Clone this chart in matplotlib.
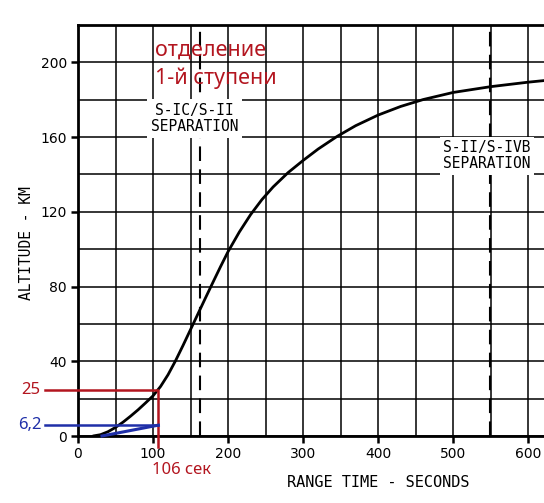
import numpy as np
import matplotlib.pyplot as plt
from matplotlib.ticker import MultipleLocator

# trajectory
time_s = [20, 30, 40, 50, 60, 70, 80, 90, 100, 110, 120, 130, 140, 150,
          160, 170, 180, 190, 200, 215, 230, 245, 260, 280, 300, 320, 345,
          370, 400, 430, 460, 500, 550, 600, 625]
alt_km = [0, 0.7, 2.3, 4.6, 7.4, 10.6, 14.0, 17.7, 21.5, 26.5, 32.8, 40.3,
          48.5, 57, 65.5, 74, 82.4, 90.7, 98.7, 109.2, 118.5, 126.5, 133.3,
          141, 147.5, 153.6, 160.3, 166.1, 171.8, 176.4, 180.1, 183.9, 187,
          189.4, 190.4]

sep1_t = 163
sep2_t = 549
mark_t = 107
mark_h = 24.5
mark_h2 = 5.8
blue_start_t = 32

mono = 'DejaVu Sans Mono'
red = '#b3151f'
blue = '#1f2fa8'

fig = plt.figure(figsize=(5.44, 5.03), dpi=100)
ax = fig.add_axes([78/544, 67/503, 466/544, 411/503])

ax.set_xlim(0, 621)
ax.set_ylim(0, 220)
ax.xaxis.set_major_locator(MultipleLocator(100))
ax.xaxis.set_minor_locator(MultipleLocator(50))
ax.yaxis.set_major_locator(MultipleLocator(40))
ax.yaxis.set_minor_locator(MultipleLocator(20))
ax.grid(which='both', color='black', linewidth=1.1, zorder=0)
ax.set_axisbelow(True)
ax.tick_params(which='major', direction='out', length=5, width=1.8,
               labelsize=10, pad=3)
ax.tick_params(which='minor', length=0)
for s in ['left', 'bottom', 'top']:
    ax.spines[s].set_linewidth(2)
ax.spines['right'].set_visible(False)

ax.plot(time_s, alt_km, color='black', lw=2, zorder=3,
        solid_capstyle='round', solid_joinstyle='round')

for t in [sep1_t, sep2_t]:
    ax.axvline(t, color='black', lw=1.5, dashes=(7, 4), zorder=2)

box = dict(fc='white', ec='none', pad=2.5)
ax.text(155, 170, 'S-IC/S-II\nSEPARATION', family=mono, fontsize=10.5,
        ha='center', va='center', linespacing=1.1, bbox=box, zorder=4)
ax.text(545, 150, 'S-II/S-IVB\nSEPARATION', family=mono, fontsize=10.5,
        ha='center', va='center', linespacing=1.1, bbox=box, zorder=4)

ax.set_ylabel('ALTITUDE - KM', family=mono, fontsize=10.5)
ax.set_xlabel('RANGE TIME - SECONDS', family=mono, fontsize=11)
ax.xaxis.set_label_coords(0.644, -0.095)
ax.yaxis.set_label_coords(-0.094, 0.47)

# annotations
ax.plot([-44, mark_t, mark_t], [mark_h, mark_h, -6], color=red, lw=1.8,
        clip_on=False, zorder=5)
ax.plot([-44, mark_t], [mark_h2, mark_h2], color=blue, lw=1.8,
        clip_on=False, zorder=5)
ax.plot([blue_start_t, mark_t], [0, mark_h2], color=blue, lw=2.2,
        clip_on=False, zorder=5)

ax.text(-50, mark_h, '25', color=red, fontsize=12, family='Noto Sans',
        ha='right', va='center')
ax.text(-48, mark_h2, '6,2', color=blue, fontsize=12, family='Noto Sans',
        ha='right', va='center')
ax.text(99, -18, '106 сек', color=red, fontsize=12, family='Noto Sans',
        ha='left', va='center')
ax.text(103, 212, 'отделение\n1-й ступени', color=red, fontsize=15.5,
        family='Noto Sans', ha='left', va='top', linespacing=1.38, zorder=5)

plt.savefig('out.png', dpi=100, facecolor='w')
